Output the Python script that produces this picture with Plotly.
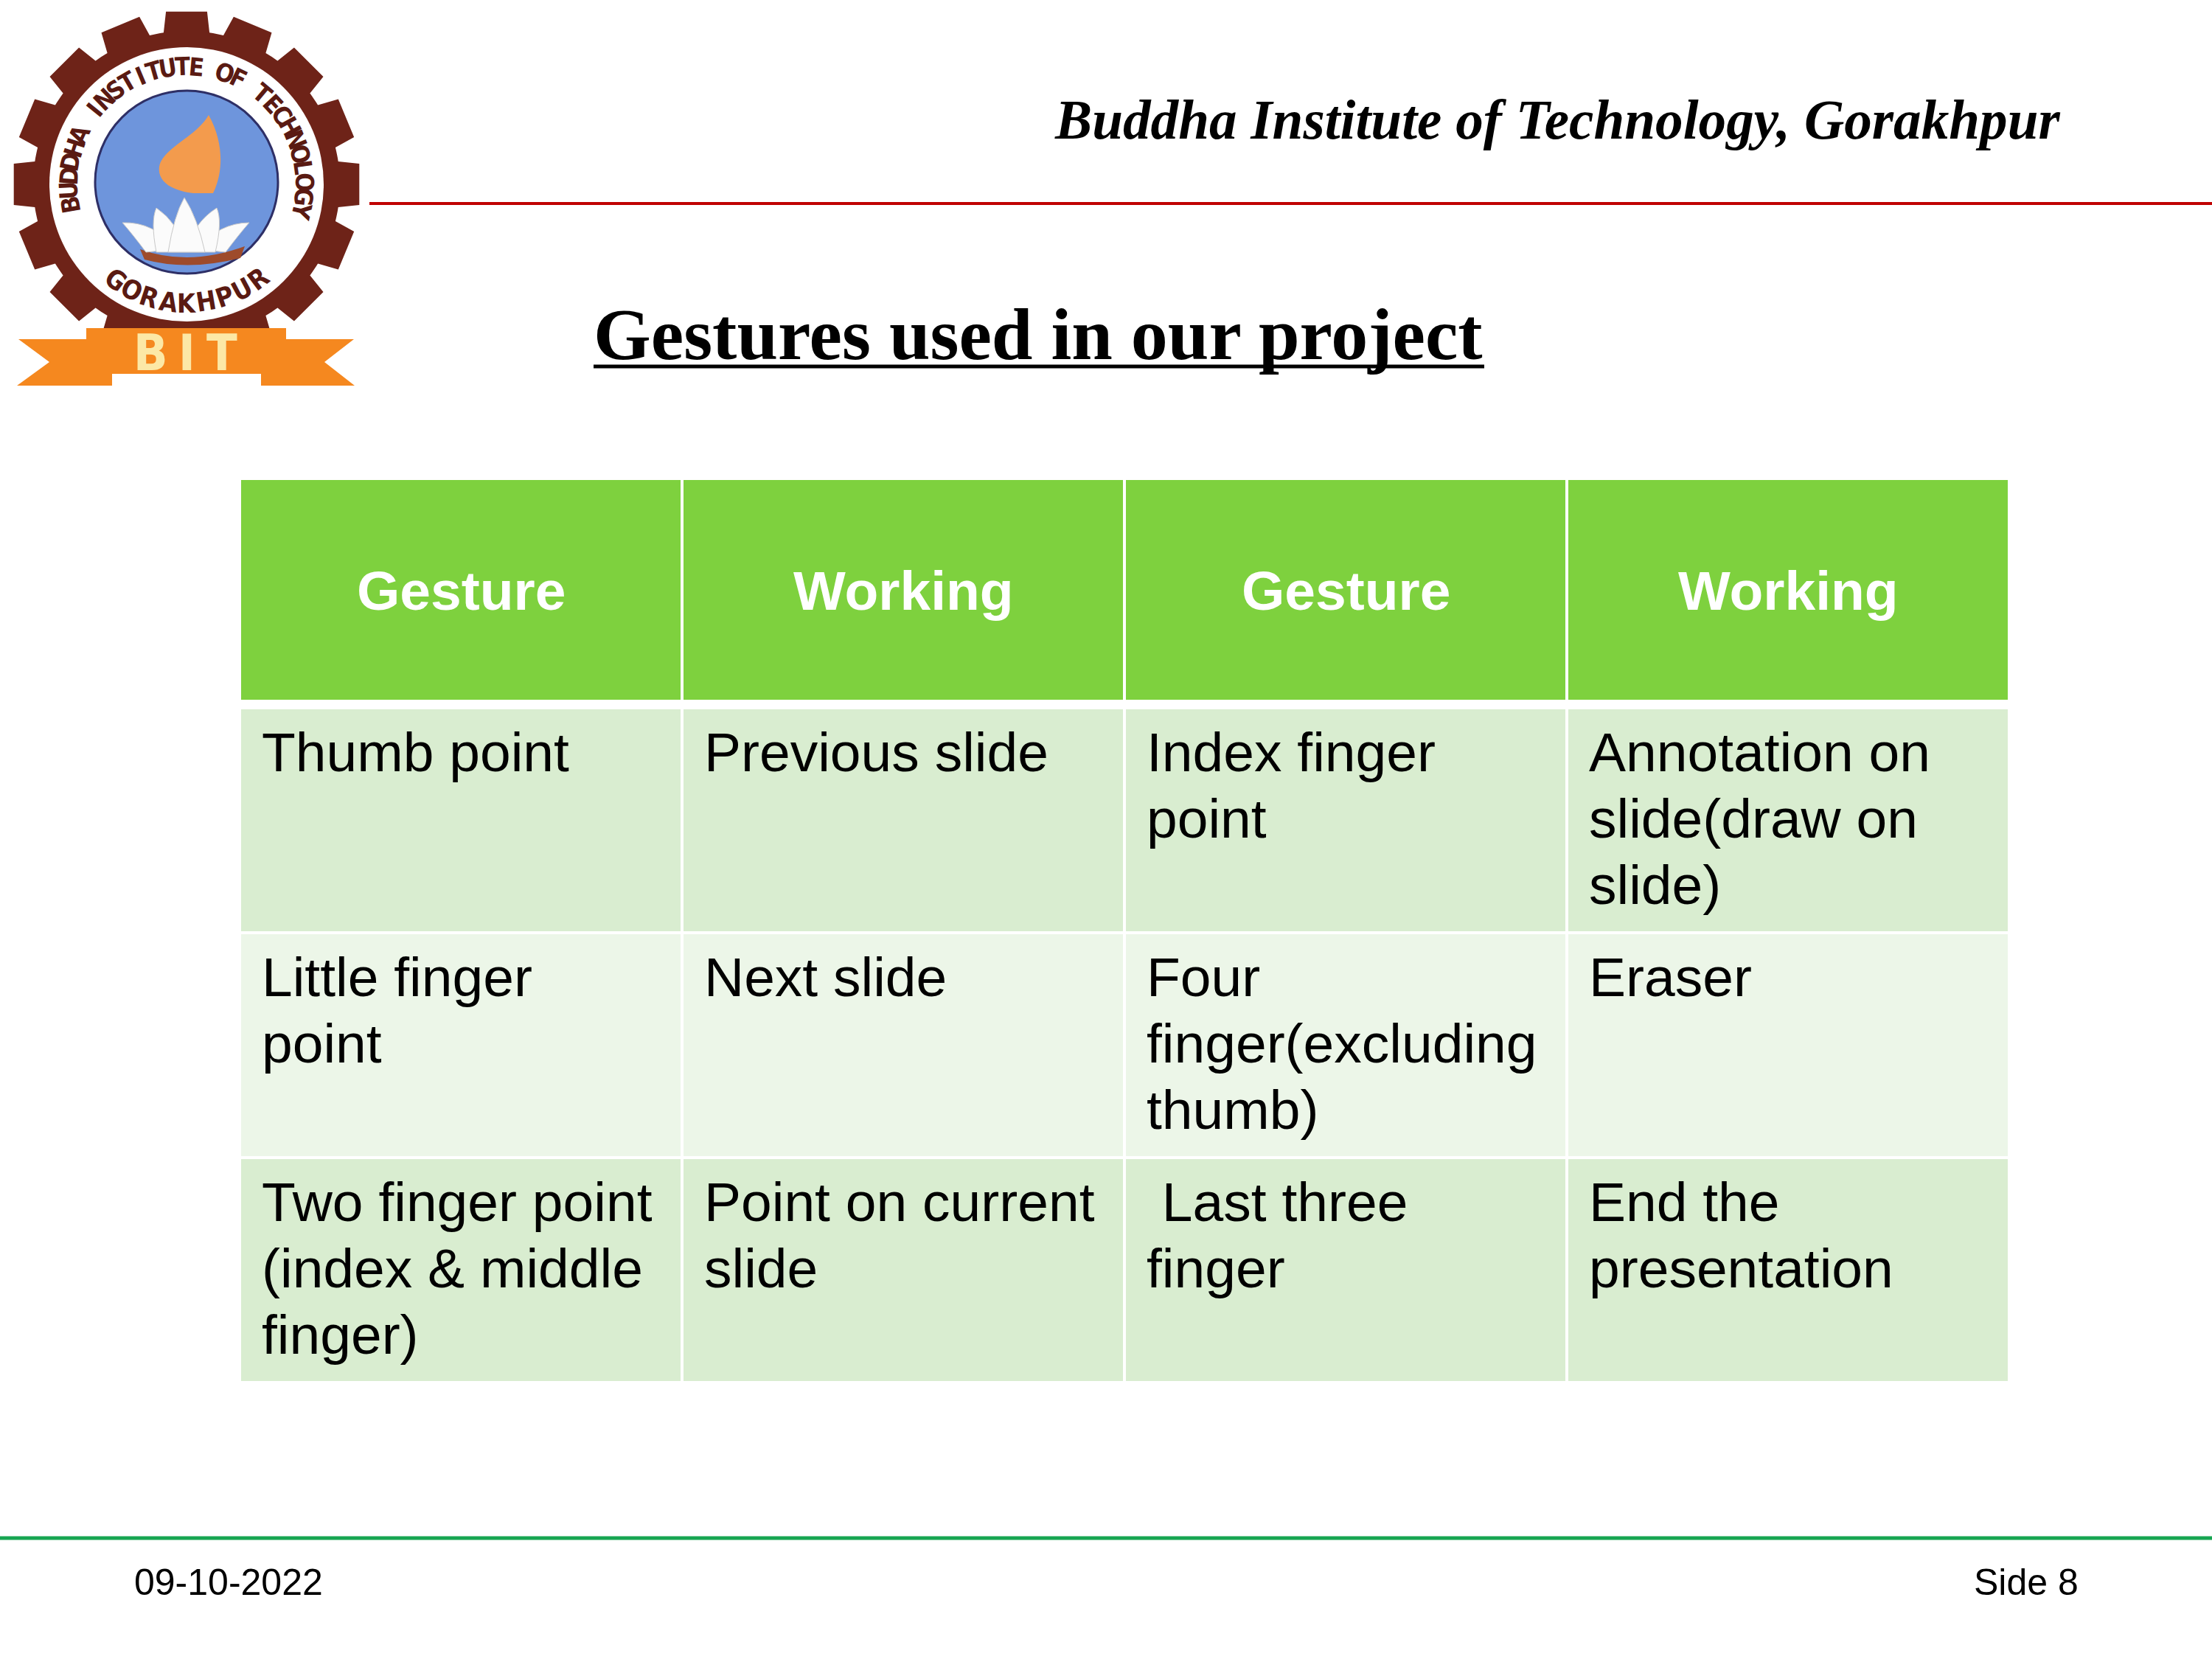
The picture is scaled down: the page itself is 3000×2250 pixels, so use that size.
import math
import plotly.graph_objects as go

# ---------------- data ----------------
header_labels = ["Gesture", "Working", "Gesture", "Working"]
gesture_a = ["Thumb point", "Little finger<br>point", "Two finger point<br>(index & middle<br>finger)"]
working_a = ["Previous slide", "Next slide", "Point on current<br>slide"]
gesture_b = ["Index finger<br>point", "Four<br>finger(excluding<br>thumb)", "\u00a0Last three<br>finger"]
working_b = ["Annotation on<br>slide(draw on<br>slide)", "Eraser", "End the<br>presentation"]
table_columns = [gesture_a, working_a, gesture_b, working_b]

title_text = "Gestures used in our project"
institute_text = "Buddha Institute of Technology, Gorakhpur"
footer_date = "09-10-2022"
footer_slide = "Side 8"
logo_ring_top = "BUDDHA INSTITUTE OF TECHNOLOGY"
logo_ring_bottom = "GORAKHPUR"
logo_badge = "BIT"

# ---------------- style / layout ----------------
W, H = 3000, 2250
HEADER_FILL = "#7ED13E"
ROW_FILLS = ["#D9EDD0", "#ECF6E8", "#D9EDD0"]
SANS = "Liberation Sans, Arial, sans-serif"
SERIF = "Liberation Serif, Times New Roman, serif"
NARROW = "Liberation Sans Narrow, DejaVu Sans Condensed, Liberation Sans, sans-serif"

TX0, COL_W, GAP = 327, 600, 4
HEAD_Y0, HEAD_H = 651, 298
BODY_Y0, ROW_PITCH, ROW_H = 962, 305, 301
FS_BODY = 75
PAD_X = 26
FIRST_BASE = 84
LINE_H = 90

shapes = []
annotations = []


def ann(x, y, text, size, family, color="black", xanchor="center", yanchor="middle", angle=0):
    annotations.append(dict(x=x, y=y, xref="x", yref="y", text=text, showarrow=False,
                            xanchor=xanchor, yanchor=yanchor, textangle=angle,
                            font=dict(size=size, family=family, color=color)))


def rect(x0, y0, x1, y1, fill, line_color=None, lw=0):
    shapes.append(dict(type="rect", xref="x", yref="y", x0=x0, y0=y0, x1=x1, y1=y1,
                       fillcolor=fill, line=dict(width=lw, color=line_color or fill), layer="below"))


def path(d, fill, line_color=None, lw=0):
    shapes.append(dict(type="path", xref="x", yref="y", path=d, fillcolor=fill,
                       line=dict(width=lw, color=line_color or fill), layer="below"))


def circle(cx, cy, r, fill, line_color=None, lw=0):
    shapes.append(dict(type="circle", xref="x", yref="y", x0=cx - r, y0=cy - r, x1=cx + r, y1=cy + r,
                       fillcolor=fill, line=dict(width=lw, color=line_color or fill), layer="below"))


# ---------------- logo ----------------
CX, CY = 253, 250
BROWN = "#6E2318"


def pt(r, a):
    return CX + r * math.cos(math.radians(a)), CY - r * math.sin(math.radians(a))


def gear_path(n=16, r_body=208, r_tip=236, half_tip=6.8, half_base=8.6, phase=90):
    pts = []
    step = 360 / n
    for k in range(n):
        a = phase + k * step
        pts.append(pt(r_body, a - half_base))
        pts.append(pt(r_tip, a - half_tip))
        pts.append(pt(r_tip, a + half_tip))
        pts.append(pt(r_body, a + half_base))
        for s in range(1, 4):
            pts.append(pt(r_body, a + half_base + s * (step - 2 * half_base) / 4))
    d = "M " + " L ".join(f"{x:.1f},{y:.1f}" for x, y in pts) + " Z"
    return d


path(gear_path(), BROWN)
circle(CX, CY, 186, "white")
circle(CX, CY - 3, 124, "#6E95DC", "#2E2F66", 3)
# flame
path("M 283,156 C 266,186 221,200 216,226 C 213,248 236,259 262,262 L 289,262 "
     "C 302,236 305,196 283,156 Z", "#F39B4D")
# lotus
petal_color = "#FBFBFB"
path("M 190,338 Q 255,362 332,334 L 326,350 Q 255,368 196,352 Z", "#9E4B2B")
path("M 198,342 Q 180,318 166,302 Q 208,300 240,338 Z", petal_color, "#C8C8C8", 1)
path("M 306,342 Q 324,318 338,302 Q 298,302 266,338 Z", petal_color, "#C8C8C8", 1)
path("M 212,342 Q 204,300 212,282 Q 242,302 252,342 Z", petal_color, "#C8C8C8", 1)
path("M 292,342 Q 302,300 294,282 Q 262,302 252,342 Z", petal_color, "#C8C8C8", 1)
path("M 228,342 Q 236,292 250,268 Q 268,296 278,342 Z", petal_color, "#C8C8C8", 1)
# ribbon
ORANGE = "#F5881F"
path("M 25,460 L 152,460 L 152,523 L 23,523 L 67,491 Z", ORANGE)
path("M 480,460 L 354,460 L 354,523 L 481,523 L 440,491 Z", ORANGE)
path("M 117,445 L 388,445 L 388,507 L 117,507 Z", ORANGE)
for ch, bx in zip(logo_badge, [204, 253, 301]):
    ann(bx, 478, f"<b>{ch}</b>", 68, NARROW, "#FCE8A6")

# ring text
top_start, top_step, r_top = 190.0, 7.0, 160
for i, ch in enumerate(logo_ring_top):
    if ch == " ":
        continue
    a = top_start - i * top_step
    x, y = pt(r_top, a)
    ann(x, y, f"<b>{ch}</b>", 34, NARROW, "#5A1A12", angle=90 - a)
bot_start, bot_step, r_bot = 233.5, 9.2, 161
for i, ch in enumerate(logo_ring_bottom):
    a = bot_start + i * bot_step
    x, y = pt(r_bot, a)
    ann(x, y, f"<b>{ch}</b>", 36, NARROW, "#5A1A12", angle=-(a + 90))

# ---------------- header lines & titles ----------------
shapes.append(dict(type="line", xref="x", yref="y", x0=501, x1=3000, y0=276, y1=276,
                   line=dict(color="#C00000", width=4)))
shapes.append(dict(type="line", xref="x", yref="y", x0=0, x1=3000, y0=2086, y1=2086,
                   line=dict(color="#17A552", width=5)))
ann(2796, 188 - 0.3375 * 75.2, f"<b><i>{institute_text}</i></b>", 75.2, SERIF, xanchor="right")
ann(1408, 487 - 0.3375 * 100, f"<b>{title_text}</b>", 100, SERIF)
shapes.append(dict(type="line", xref="x", yref="y", x0=805, x1=2013, y0=497, y1=497,
                   line=dict(color="black", width=5)))

ann(180, 2163 - 0.3465 * 50, footer_date, 50, SANS, xanchor="left")
ann(2821, 2163 - 0.3465 * 50, footer_slide, 50, SANS, xanchor="right")

# ---------------- table ----------------
for j, label in enumerate(header_labels):
    x0 = TX0 + j * COL_W
    rect(x0, HEAD_Y0, x0 + COL_W - GAP, HEAD_Y0 + HEAD_H, HEADER_FILL)
    ann(x0 + (COL_W - GAP) / 2, HEAD_Y0 + HEAD_H / 2 + 1, f"<b>{label}</b>", FS_BODY, SANS, "white")

for j, column in enumerate(table_columns):
    x0 = TX0 + j * COL_W
    for i, cell in enumerate(column):
        y0 = BODY_Y0 + i * ROW_PITCH
        rect(x0, y0, x0 + COL_W - GAP, y0 + ROW_H, ROW_FILLS[i])
        for k, line in enumerate(cell.split("<br>")):
            base = y0 + FIRST_BASE + k * LINE_H
            ann(x0 + PAD_X, base - 0.3465 * FS_BODY, line, FS_BODY, SANS, xanchor="left")

fig = go.Figure(go.Scatter(x=[], y=[]))
fig.update_layout(
    width=W, height=H, margin=dict(l=0, r=0, t=0, b=0),
    paper_bgcolor="white", plot_bgcolor="white", showlegend=False,
    xaxis=dict(range=[0, W], visible=False, fixedrange=True),
    yaxis=dict(range=[H, 0], visible=False, fixedrange=True),
    shapes=shapes, annotations=annotations,
)
fig.write_html("out.html", config={"displayModeBar": False},
               post_script="document.body.style.margin='0px';document.body.style.overflow='hidden';")
